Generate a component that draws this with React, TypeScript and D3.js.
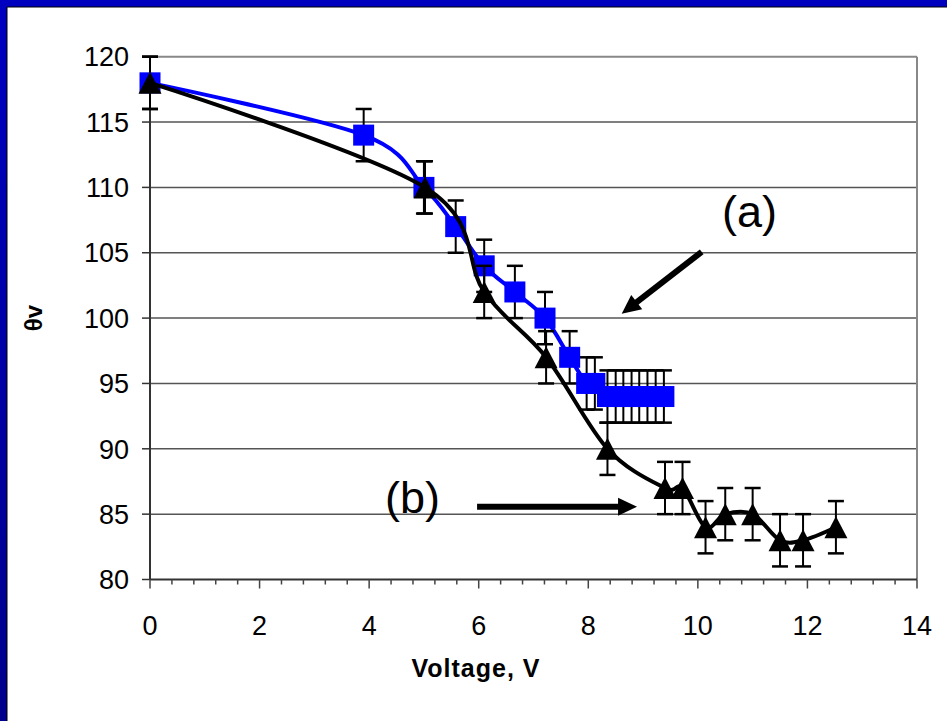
import React from 'react';
import * as d3 from 'd3';

// series (a): blue squares, series (b): black triangles  [voltage, theta]
const seriesA: [number, number][] = [
  [0, 118], [3.9, 114], [5.0, 110], [5.58, 107], [6.1, 104], [6.66, 102],
  [7.21, 100], [7.66, 97], [7.97, 95], [8.12, 95], [8.35, 94], [8.5, 94],
  [8.64, 94], [8.79, 94], [8.93, 94], [9.08, 94], [9.23, 94], [9.38, 94],
];
const seriesB: [number, number][] = [
  [0, 118], [5.02, 110], [6.1, 102], [7.23, 97], [8.35, 90], [9.4, 87],
  [9.72, 87], [10.14, 84], [10.5, 85], [11.0, 85], [11.5, 83], [11.92, 83],
  [12.52, 84],
];
const errA = 2;
const errB = 2;

const yTicks = [80, 85, 90, 95, 100, 105, 110, 115, 120];
const xTicks = [0, 2, 4, 6, 8, 10, 12, 14];

// annotations in data units: [x1, y1, x2(tip), y2(tip)]
const arrows = [
  { from: [10.07, 105.07], to: [8.61, 100.33] },
  { from: [5.97, 85.57], to: [8.89, 85.57] },
];
const labels = [
  { text: '(a)', x: 10.44, y: 106.95 },
  { text: '(b)', x: 4.29, y: 85.1 },
];

const W = 947;
const H = 721;
const left = 150, right = 917, top = 56.7, bottom = 579.5;
const font = '"Liberation Sans", Arial, sans-serif';

export default function App() {
  const x = d3.scaleLinear().domain([0, 14]).range([left, right]);
  const y = d3.scaleLinear().domain([80, 120]).range([bottom, top]);

  const line = d3.line<[number, number]>()
    .x(d => x(d[0]))
    .y(d => y(d[1]))
    .curve(d3.curveCardinal.tension(0));

  const minor = d3.range(0, 14.001, 0.4);

  const errBars = (data: [number, number][], e: number, key: string) =>
    data.map((d, i) => {
      const cx = x(d[0]);
      return (
        <g key={key + i} stroke="#000">
          <line x1={cx} x2={cx} y1={y(d[1] + e)} y2={y(d[1] - e)} strokeWidth={2} />
          <line x1={cx - 8} x2={cx + 8} y1={y(d[1] + e)} y2={y(d[1] + e)} strokeWidth={2.5} />
          <line x1={cx - 8} x2={cx + 8} y1={y(d[1] - e)} y2={y(d[1] - e)} strokeWidth={2.5} />
        </g>
      );
    });

  const arrowShape = (a: { from: number[]; to: number[] }, i: number) => {
    const x1 = x(a.from[0]), y1 = y(a.from[1]);
    const x2 = x(a.to[0]), y2 = y(a.to[1]);
    const len = Math.hypot(x2 - x1, y2 - y1);
    const ux = (x2 - x1) / len, uy = (y2 - y1) / len;
    const hl = 19, hw = 9;
    const bx = x2 - ux * hl, by = y2 - uy * hl;
    const pts = [
      [x2, y2],
      [bx - uy * hw, by + ux * hw],
      [bx + uy * hw, by - ux * hw],
    ].map(p => p.join(',')).join(' ');
    return (
      <g key={'arr' + i}>
        <line x1={x1} y1={y1} x2={bx + ux * 2} y2={by + uy * 2} stroke="#000" strokeWidth={6} />
        <polygon points={pts} fill="#000" />
      </g>
    );
  };

  return (
    <svg width={W} height={H} style={{ position: 'absolute', left: 0, top: 0, display: 'block' }}
      fontFamily={font}>
      <defs>
        <linearGradient id="sideBar" x1="0" y1="0" x2="0" y2="1">
          <stop offset="0" stopColor="#0000c0" />
          <stop offset="1" stopColor="#00008c" />
        </linearGradient>
      </defs>
      <rect width={W} height={H} fill="#fff" />
      <rect x={0} y={0} width={W} height={7} fill="#0000bf" />
      <line x1={7} x2={W} y1={7} y2={7} stroke="#000" strokeWidth={1} />
      <rect x={0} y={0} width={7} height={H} fill="url(#sideBar)" />
      <line x1={7} x2={7} y1={7} y2={H} stroke="#000" strokeWidth={1} />

      {/* grid */}
      {yTicks.filter(t => t > 80 && t < 120).map(t => (
        <line key={'g' + t} x1={left} x2={right} y1={y(t)} y2={y(t)} stroke="#555" strokeWidth={1.5} />
      ))}
      <line x1={left} x2={right} y1={top} y2={top} stroke="#888" strokeWidth={2} />
      <line x1={right} x2={right} y1={top} y2={bottom} stroke="#888" strokeWidth={2} />

      {/* axes */}
      <line x1={left} x2={left} y1={top} y2={bottom} stroke="#333" strokeWidth={2} />
      <line x1={left} x2={right} y1={bottom} y2={bottom} stroke="#333" strokeWidth={2} />
      {yTicks.map(t => (
        <g key={'yt' + t}>
          <line x1={left - 8} x2={left} y1={y(t)} y2={y(t)} stroke="#333" strokeWidth={1.5} />
          <text x={left - 21} y={y(t)} dy="0.36em" textAnchor="end" fontSize={27} fill="#000">{t}</text>
        </g>
      ))}
      {minor.map((t, i) => {
        const major = i % 5 === 0;
        return (
          <line key={'mt' + i} x1={x(t)} x2={x(t)} y1={bottom} y2={bottom + (major ? 9 : 5)}
            stroke="#444" strokeWidth={1.5} />
        );
      })}
      {xTicks.map(t => (
        <text key={'xt' + t} x={x(t)} y={635} textAnchor="middle" fontSize={27} fill="#000">{t}</text>
      ))}
      <text x={476} y={677} textAnchor="middle" fontSize={25} fontWeight="bold" letterSpacing={1}>Voltage, V</text>
      <text transform="translate(42,318) rotate(-90)" textAnchor="middle" fontSize={24} fontWeight="bold">θv</text>

      {/* series (a) */}
      {errBars(seriesA, errA, 'ea')}
      <path d={line(seriesA) || ''} fill="none" stroke="#0000ff" strokeWidth={4} />
      {seriesA.map((d, i) => (
        <rect key={'sa' + i} x={x(d[0]) - 10.5} y={y(d[1]) - 10.5} width={21} height={21} fill="#0000ff" />
      ))}

      {/* series (b) */}
      {errBars(seriesB, errB, 'eb')}
      <path d={line(seriesB) || ''} fill="none" stroke="#000" strokeWidth={4} />
      {seriesB.map((d, i) => {
        const cx = x(d[0]), cy = y(d[1]);
        return (
          <polygon key={'sb' + i}
            points={`${cx},${cy - 11} ${cx + 11.5},${cy + 11} ${cx - 11.5},${cy + 11}`} fill="#000" />
        );
      })}

      {arrows.map(arrowShape)}
      {labels.map((l, i) => (
        <text key={'lb' + i} x={x(l.x)} y={y(l.y)} fontSize={45} fill="#000">{l.text}</text>
      ))}
    </svg>
  );
}
